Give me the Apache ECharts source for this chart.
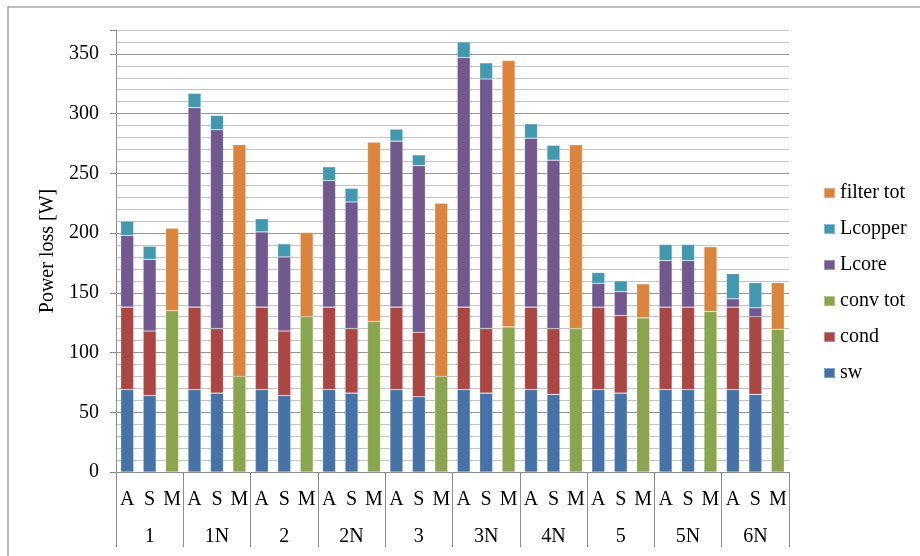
<!DOCTYPE html>
<html lang="en">
  <head>
    <meta charset="UTF-8" />
    <title>Power loss</title>
    <style>
      html, body { margin: 0; padding: 0; background: #fff; }
    </style>
  </head>
  <body>
    <div id="chart" style="width: 920px; height: 556px;"></div>
  </body>
  <script src="https://cdn.jsdelivr.net/npm/echarts@6/dist/echarts.min.js"></script>
  <script>
    // bar labels inside each group, and the groups
    let barLabels = ['A', 'S', 'M', 'A', 'S', 'M', 'A', 'S', 'M', 'A', 'S', 'M', 'A', 'S', 'M',
      'A', 'S', 'M', 'A', 'S', 'M', 'A', 'S', 'M', 'A', 'S', 'M', 'A', 'S', 'M']
    let groups = ['1', '1N', '2', '2N', '3', '3N', '4N', '5', '5N', '6N']

    // one value per bar (A, S, M per group), null where the part is not in that bar
    let sw = [69, 64, null, 69, 66, null, 69, 64, null, 69, 66, null, 69, 63, null,
      69, 66, null, 69, 65, null, 69, 66, null, 69, 69, null, 69, 65, null]
    let cond = [69, 54, null, 69, 54, null, 69, 54, null, 69, 54, null, 69, 54, null,
      69, 54, null, 69, 55, null, 69, 65, null, 69, 69, null, 69, 65, null]
    let convTot = [null, null, 135, null, null, 80, null, null, 130, null, null, 126, null, null, 80,
      null, null, 121.5, null, null, 120, null, null, 129, null, null, 134.5, null, null, 119.5]
    let lcore = [60, 60, null, 167, 166.5, null, 63, 62, null, 106, 106, null, 139, 139.5, null,
      209, 209, null, 141.5, 141, null, 20, 20, null, 39, 39, null, 7, 7.5, null]
    let lcopper = [12, 11, null, 12, 12, null, 11, 11, null, 11.5, 11.5, null, 10, 9, null,
      13, 13.5, null, 12, 12.5, null, 9, 9, null, 13.5, 13.5, null, 21, 21, null]
    let filterTot = [null, null, 69, null, null, 194, null, null, 70.5, null, null, 150, null, null, 145,
      null, null, 223, null, null, 154, null, null, 28.5, null, null, 54, null, null, 39]

    let serif = "'Liberation Serif', 'Times New Roman', serif"
    let axisGray = '#8c8c8c'

    function bar(name, data, color) {
      return {
        name,
        type: 'bar',
        stack: 'loss',
        barWidth: 13,
        data,
        itemStyle: { color, borderColor: 'rgba(255,255,255,0.35)', borderWidth: 0.6 }
      }
    }

    let chart = echarts.init(document.getElementById('chart'))
    let option = {
      backgroundColor: '#fff',
      animation: false,
      textStyle: { fontFamily: serif },
      graphic: [
        {
          type: 'rect',
          shape: { x: 8, y: 7, width: 1000, height: 1000 },
          style: { fill: 'none', stroke: '#a6a6a6', lineWidth: 1.5 },
          silent: true
        }
      ],
      grid: { left: 116, right: 131, top: 30, bottom: 84 },
      legend: {
        orient: 'vertical',
        left: 823,
        top: 183,
        padding: 0,
        itemWidth: 11,
        itemHeight: 10,
        itemGap: 16,
        icon: 'rect',
        textStyle: { fontFamily: serif, fontSize: 20, color: '#000' },
        data: ['filter tot', 'Lcopper', 'Lcore', 'conv tot', 'cond', 'sw']
      },
      xAxis: [
        {
          type: 'category',
          data: barLabels,
          axisLine: { lineStyle: { color: axisGray } },
          axisTick: { show: false },
          axisLabel: { interval: 0, margin: 18, fontSize: 20, color: '#000', fontFamily: serif }
        },
        {
          type: 'category',
          data: groups,
          position: 'bottom',
          axisLine: { show: false },
          axisTick: { show: true, interval: 0, length: 75, lineStyle: { color: axisGray } },
          axisLabel: { interval: 0, margin: 55, fontSize: 20, color: '#000', fontFamily: serif }
        }
      ],
      yAxis: [
        {
          type: 'value',
          min: 0,
          max: 370,
          interval: 10,
          name: 'Power loss [W]',
          nameLocation: 'middle',
          nameGap: 54,
          nameTextStyle: { fontFamily: serif, fontSize: 20, color: '#000' },
          axisLine: { show: true, lineStyle: { color: axisGray } },
          axisTick: { show: false },
          axisLabel: {
            margin: 17,
            fontSize: 20,
            color: '#000',
            fontFamily: serif,
            formatter: v => (v % 50 === 0 ? String(v) : '')
          },
          splitLine: { lineStyle: { color: '#c4c4c4', width: 1 } }
        },
        {
          type: 'value',
          min: 0,
          max: 370,
          interval: 50,
          position: 'left',
          axisLine: { show: false },
          axisTick: { show: true, length: 6, lineStyle: { color: axisGray } },
          axisLabel: { show: false },
          splitLine: { showMaxLine: false, lineStyle: { color: '#969696', width: 1 } }
        }
      ],
      series: [
        bar('sw', sw, '#4572A7'),
        bar('cond', cond, '#AA4643'),
        bar('conv tot', convTot, '#89A54E'),
        bar('Lcore', lcore, '#71588F'),
        bar('Lcopper', lcopper, '#4198AF'),
        bar('filter tot', filterTot, '#DB843D')
      ]
    }
    chart.setOption(option)
  </script>
</html>
